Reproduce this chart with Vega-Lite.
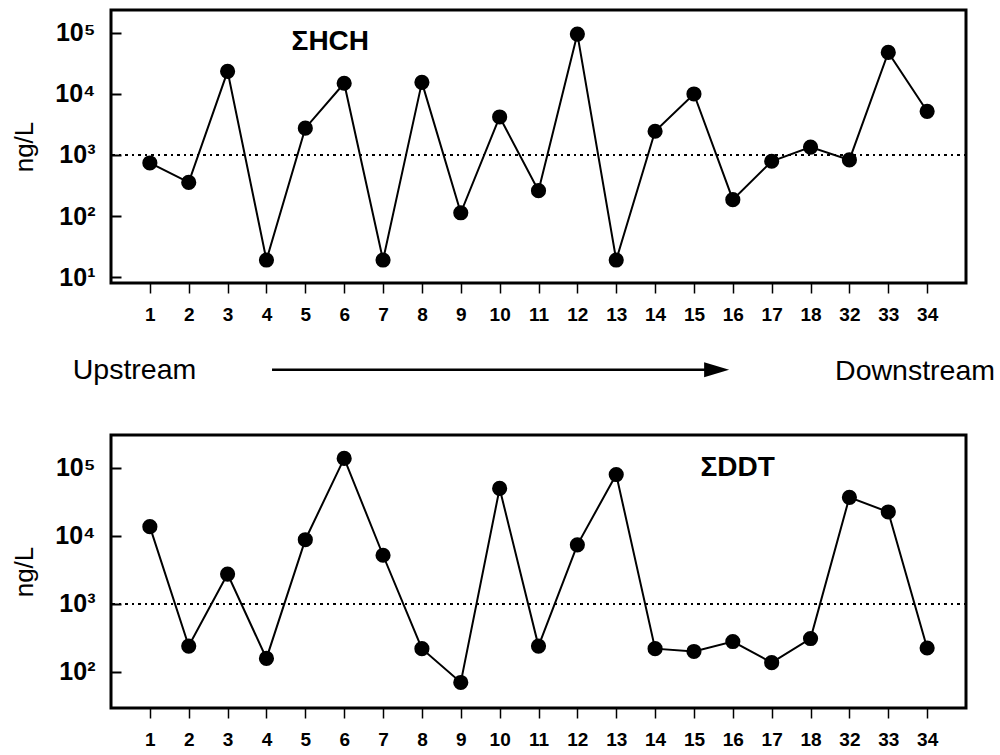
{
  "$schema": "https://vega.github.io/schema/vega-lite/v6.json",
  "padding": {"left": 10, "top": 8, "right": 5, "bottom": 5},
  "bounds": "flush",
  "spacing": 0,
  "config": {
    "font": "Liberation Sans",
    "view": {"stroke": "black", "strokeWidth": 3},
    "axis": {"grid": false, "domain": false, "tickColor": "black", "labelColor": "black", "titleColor": "black"}
  },
  "datasets": {
    "hch": [
      {"station": 1, "ng_per_L": 740}, {"station": 2, "ng_per_L": 355}, {"station": 3, "ng_per_L": 23500},
      {"station": 4, "ng_per_L": 19}, {"station": 5, "ng_per_L": 2750}, {"station": 6, "ng_per_L": 15000},
      {"station": 7, "ng_per_L": 19}, {"station": 8, "ng_per_L": 15500}, {"station": 9, "ng_per_L": 113},
      {"station": 10, "ng_per_L": 4200}, {"station": 11, "ng_per_L": 260}, {"station": 12, "ng_per_L": 96000},
      {"station": 13, "ng_per_L": 19}, {"station": 14, "ng_per_L": 2450}, {"station": 15, "ng_per_L": 10000},
      {"station": 16, "ng_per_L": 185}, {"station": 17, "ng_per_L": 790}, {"station": 18, "ng_per_L": 1350},
      {"station": 32, "ng_per_L": 830}, {"station": 33, "ng_per_L": 48000}, {"station": 34, "ng_per_L": 5200}
    ],
    "ddt": [
      {"station": 1, "ng_per_L": 13700}, {"station": 2, "ng_per_L": 240}, {"station": 3, "ng_per_L": 2750},
      {"station": 4, "ng_per_L": 158}, {"station": 5, "ng_per_L": 8800}, {"station": 6, "ng_per_L": 138000},
      {"station": 7, "ng_per_L": 5200}, {"station": 8, "ng_per_L": 220}, {"station": 9, "ng_per_L": 70},
      {"station": 10, "ng_per_L": 50000}, {"station": 11, "ng_per_L": 240}, {"station": 12, "ng_per_L": 7400},
      {"station": 13, "ng_per_L": 80000}, {"station": 14, "ng_per_L": 220}, {"station": 15, "ng_per_L": 200},
      {"station": 16, "ng_per_L": 280}, {"station": 17, "ng_per_L": 137}, {"station": 18, "ng_per_L": 310},
      {"station": 32, "ng_per_L": 37000}, {"station": 33, "ng_per_L": 22500}, {"station": 34, "ng_per_L": 225}
    ]
  },
  "vconcat": [
    {
      "width": 855,
      "height": 273,
      "data": {"name": "hch"},
      "encoding": {
        "x": {
          "field": "station", "type": "ordinal", "sort": null,
          "scale": {"type": "point", "padding": 2, "domain": [1,2,3,4,5,6,7,8,9,10,11,12,13,14,15,16,17,18,32,33,34]},
          "axis": {"title": null, "labelAngle": 0, "labelFont": "Liberation Sans", "labelFontWeight": "bold", "labelFontSize": 19, "tickSize": 10, "tickWidth": 1.5, "labelPadding": 12}
        },
        "y": {
          "field": "ng_per_L", "type": "quantitative",
          "scale": {"type": "log", "domain": [7.98, 238000], "nice": false},
          "axis": {
            "values": [10, 100, 1000, 10000, 100000],
            "labelExpr": "'10' + ['⁰','¹','²','³','⁴','⁵','⁶'][round(log(datum.value)/LN10)]",
            "title": "ng/L", "titleFontSize": 26, "titleFontWeight": "normal", "titlePadding": 17,
            "tickSize": -10, "tickWidth": 2, "labelFontSize": 25, "labelFontWeight": "bold", "labelPadding": 26
          }
        }
      },
      "layer": [
        {"mark": {"type": "rule", "color": "black", "strokeWidth": 2, "strokeDash": [2, 4.5]}, "encoding": {"y": {"datum": 1000}, "x": null}},
        {"mark": {"type": "line", "color": "black", "strokeWidth": 2}},
        {"mark": {"type": "point", "filled": true, "color": "black", "opacity": 1, "size": 230}},
        {
          "data": {"values": [{"station": 5, "ng_per_L": 70000, "label": "ΣHCH"}]},
          "mark": {"type": "text", "fontSize": 28, "fontWeight": "bold", "dx": 25},
          "encoding": {"text": {"field": "label"}}
        }
      ]
    },
    {
      "width": 855,
      "height": 152,
      "view": {"stroke": null},
      "layer": [
        {
          "data": {"values": [{"from": 3.52, "to": 16.0, "level": 0.43}]},
          "mark": {"type": "rule", "color": "black", "strokeWidth": 2.5},
          "encoding": {
            "x": {"field": "from", "type": "quantitative", "scale": {"domain": [-1, 23], "nice": false, "zero": false}, "axis": null},
            "x2": {"field": "to"},
            "y": {"field": "level", "type": "quantitative", "scale": {"domain": [0, 1]}, "axis": null}
          }
        },
        {
          "data": {"values": [{"head": 16.0, "level": 0.43}]},
          "mark": {"type": "point", "shape": "M-1,-0.6L1,0L-1,0.6Z", "filled": true, "color": "black", "opacity": 1, "size": 625},
          "encoding": {
            "x": {"field": "head", "type": "quantitative"},
            "y": {"field": "level", "type": "quantitative"}
          }
        },
        {
          "data": {"values": [{"label": "Upstream", "at": -0.34, "level": 0.43}, {"label": "Downstream", "at": 21.57, "level": 0.42}]},
          "mark": {"type": "text", "fontSize": 28.5, "color": "black"},
          "encoding": {
            "x": {"field": "at", "type": "quantitative"},
            "y": {"field": "level", "type": "quantitative"},
            "text": {"field": "label"}
          }
        }
      ]
    },
    {
      "width": 855,
      "height": 273,
      "data": {"name": "ddt"},
      "encoding": {
        "x": {
          "field": "station", "type": "ordinal", "sort": null,
          "scale": {"type": "point", "padding": 2, "domain": [1,2,3,4,5,6,7,8,9,10,11,12,13,14,15,16,17,18,32,33,34]},
          "axis": {"title": null, "labelAngle": 0, "labelFont": "Liberation Sans", "labelFontWeight": "bold", "labelFontSize": 19, "tickSize": 10, "tickWidth": 1.5, "labelPadding": 12}
        },
        "y": {
          "field": "ng_per_L", "type": "quantitative",
          "scale": {"type": "log", "domain": [29.5, 305000], "nice": false},
          "axis": {
            "values": [100, 1000, 10000, 100000],
            "labelExpr": "'10' + ['⁰','¹','²','³','⁴','⁵','⁶'][round(log(datum.value)/LN10)]",
            "title": "ng/L", "titleFontSize": 26, "titleFontWeight": "normal", "titlePadding": 17,
            "tickSize": -10, "tickWidth": 2, "labelFontSize": 25, "labelFontWeight": "bold", "labelPadding": 26
          }
        }
      },
      "layer": [
        {"mark": {"type": "rule", "color": "black", "strokeWidth": 2, "strokeDash": [2, 4.5]}, "encoding": {"y": {"datum": 1000}, "x": null}},
        {"mark": {"type": "line", "color": "black", "strokeWidth": 2}},
        {"mark": {"type": "point", "filled": true, "color": "black", "opacity": 1, "size": 230}},
        {
          "data": {"values": [{"station": 17, "ng_per_L": 100000, "label": "ΣDDT"}]},
          "mark": {"type": "text", "fontSize": 28, "fontWeight": "bold", "dx": -34},
          "encoding": {"text": {"field": "label"}}
        }
      ]
    }
  ]
}
